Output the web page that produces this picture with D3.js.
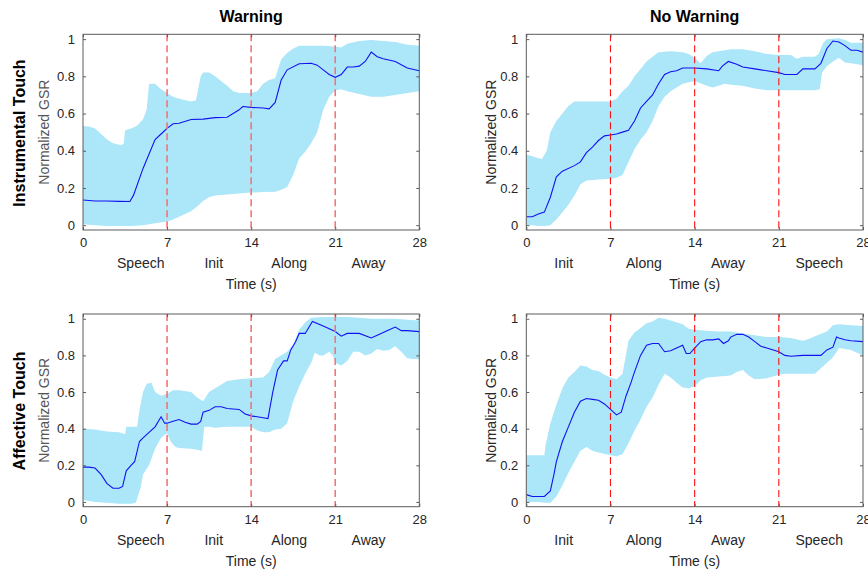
<!DOCTYPE html>
<html><head><meta charset="utf-8">
<script src="https://cdn.jsdelivr.net/npm/d3@7"></script>
<style>
html,body{margin:0;padding:0;background:#fff;}
svg{display:block;font-family:"Liberation Sans",Arial,Helvetica,sans-serif;}
</style></head>
<body><svg id="chart" width="868" height="574"></svg>
<script>
// ---------- DATA ----------
const columnTitles = ["Warning", "No Warning"];
const rowTitles = ["Instrumental Touch", "Affective Touch"];
const xTicks = [0, 7, 14, 21, 28];
const yTicks = [0, 0.2, 0.4, 0.6, 0.8, 1];
const yTickLabels = ["0", "0.2", "0.4", "0.6", "0.8", "1"];
const phaseBoundaries = [7, 14, 21];
const phasesWarning = ["Speech", "Init", "Along", "Away"];
const phasesNoWarning = ["Init", "Along", "Away", "Speech"];
const phaseAnchorsWarning = [4.81, 10.89, 17.17, 23.78];
const phaseAnchorsNoWarning = [3.11, 9.78, 16.77, 24.36];
const xLabel = "Time (s)";
const yLabel = "Normalized GSR";

// Instrumental touch, warning
const iwMean = [[0,0.135],[1,0.13],[2,0.13],[3,0.128],[3.9,0.127],[4.2,0.16],[5,0.305],[6,0.46],[6.5,0.49],[7,0.52],[7.5,0.545],[8,0.548],[9,0.568],[10,0.57],[11,0.578],[12,0.58],[13,0.62],[13.3,0.638],[14,0.633],[15,0.63],[15.5,0.625],[16,0.66],[16.5,0.78],[17,0.835],[18,0.868],[19,0.87],[19.5,0.86],[20,0.835],[20.5,0.81],[21,0.795],[21.5,0.81],[22,0.85],[22.5,0.85],[23,0.855],[23.5,0.88],[24,0.93],[24.5,0.905],[25,0.895],[26,0.88],[27,0.845],[28,0.83]];
const iwUpper = [[0,0.533],[0.5,0.53],[1,0.52],[1.5,0.49],[2,0.46],[2.5,0.44],[3.2,0.43],[3.4,0.44],[3.5,0.51],[4,0.52],[4.5,0.535],[5,0.57],[5.3,0.62],[5.5,0.76],[6,0.76],[6.5,0.73],[7,0.71],[7.5,0.69],[8,0.68],[9,0.665],[9.4,0.67],[9.8,0.8],[10,0.82],[10.5,0.82],[11,0.8],[12,0.75],[12.5,0.72],[13,0.71],[14,0.71],[14.5,0.72],[15,0.76],[15.5,0.78],[16,0.79],[16.5,0.89],[17,0.925],[17.5,0.95],[18,0.965],[20,0.965],[21,0.96],[21.5,0.955],[22,0.975],[23,0.99],[24,0.995],[25,0.99],[26,0.985],[27,0.97],[28,0.965]];
const iwLower = [[0,0.005],[1,0],[2,-0.005],[3,-0.005],[4,-0.005],[5,0],[6,0.01],[7,0.02],[7.5,0.03],[8,0.045],[9,0.075],[9.5,0.1],[10,0.13],[10.5,0.15],[11,0.16],[12,0.165],[13,0.17],[14,0.175],[15,0.178],[16,0.18],[16.5,0.19],[17,0.205],[17.5,0.27],[18,0.36],[18.5,0.395],[19,0.44],[19.5,0.5],[20,0.62],[20.5,0.69],[21,0.725],[21.5,0.73],[22,0.72],[23,0.705],[24,0.69],[25,0.69],[26,0.7],[27,0.71],[28,0.72]];

// Instrumental touch, no warning
const inMean = [[0,0.045],[0.5,0.045],[1,0.06],[1.5,0.07],[2,0.15],[2.5,0.26],[3,0.29],[4,0.32],[4.5,0.34],[5,0.39],[5.5,0.42],[6,0.455],[6.5,0.48],[7,0.485],[7.5,0.49],[8,0.5],[8.5,0.51],[9,0.56],[9.5,0.63],[10,0.665],[10.5,0.7],[11,0.76],[11.5,0.81],[12,0.825],[12.5,0.83],[13,0.845],[14,0.845],[15,0.84],[16,0.83],[16.3,0.855],[16.8,0.88],[17.5,0.865],[18,0.85],[19,0.84],[20,0.83],[21,0.82],[21.5,0.81],[22,0.81],[22.5,0.81],[23,0.84],[23.5,0.84],[24,0.84],[24.5,0.87],[25,0.95],[25.5,0.99],[26,0.985],[26.5,0.965],[27,0.94],[27.5,0.94],[28,0.93]];
const inUpper = [[0,0.38],[0.5,0.37],[1,0.36],[1.3,0.355],[1.7,0.4],[2,0.5],[2.5,0.56],[3,0.6],[3.5,0.64],[4,0.665],[5,0.665],[6,0.665],[7,0.665],[7.5,0.68],[8,0.72],[8.5,0.75],[9,0.8],[9.5,0.84],[10,0.88],[10.5,0.905],[11,0.93],[12,0.935],[13,0.93],[13.5,0.92],[14,0.9],[14.5,0.87],[15,0.91],[15.5,0.93],[16,0.935],[17,0.945],[18,0.945],[19,0.935],[20,0.92],[21,0.915],[22,0.915],[22.5,0.895],[23,0.905],[24,0.905],[24.3,0.92],[24.7,0.98],[25,1.0],[26,1.005],[26.5,0.995],[27,0.98],[28,0.98]];
const inLower = [[0,0],[0.5,0],[1,-0.005],[1.5,-0.005],[2,0],[2.5,0.03],[3,0.07],[3.5,0.11],[4,0.16],[4.5,0.22],[5,0.24],[6,0.245],[7,0.25],[7.5,0.255],[8,0.27],[8.5,0.34],[9,0.41],[9.5,0.46],[10,0.5],[10.5,0.56],[11,0.64],[11.5,0.69],[12,0.72],[12.5,0.74],[13,0.76],[14,0.775],[15,0.75],[15.5,0.74],[16,0.75],[16.5,0.76],[17,0.755],[18,0.75],[19,0.735],[20,0.725],[21,0.725],[22,0.725],[23,0.725],[24,0.725],[24.4,0.73],[24.6,0.82],[25,0.855],[25.5,0.88],[26,0.9],[26.5,0.875],[27,0.87],[28,0.86]];

// Affective touch, warning
const awMean = [[0,0.19],[0.5,0.19],[1,0.185],[1.5,0.15],[2,0.1],[2.5,0.075],[3,0.075],[3.3,0.085],[3.6,0.17],[4,0.2],[4.3,0.22],[4.7,0.33],[5,0.35],[5.5,0.38],[6,0.41],[6.5,0.465],[6.8,0.43],[7,0.43],[7.5,0.44],[8,0.45],[8.5,0.435],[9,0.425],[9.5,0.425],[9.8,0.44],[10,0.49],[10.5,0.5],[11,0.52],[11.5,0.52],[12,0.51],[13,0.505],[13.5,0.48],[14,0.47],[14.5,0.465],[15,0.46],[15.4,0.455],[15.8,0.6],[16.2,0.72],[16.7,0.77],[17,0.77],[17.3,0.83],[17.7,0.875],[18,0.92],[18.5,0.92],[19.1,0.985],[20,0.96],[21,0.93],[21.5,0.905],[22,0.92],[23,0.92],[24,0.895],[24.5,0.91],[25,0.925],[25.5,0.94],[26,0.955],[26.5,0.935],[27,0.935],[28,0.93]];
const awUpper = [[0,0.4],[1,0.395],[2,0.385],[3,0.38],[3.5,0.37],[3.6,0.41],[4,0.41],[4.5,0.41],[4.7,0.5],[5,0.6],[5.3,0.645],[5.7,0.65],[6,0.6],[6.5,0.58],[7,0.59],[7.5,0.61],[8,0.61],[9,0.6],[9.5,0.57],[10,0.55],[10.5,0.6],[11,0.62],[12,0.66],[13,0.67],[14,0.675],[15,0.68],[15.5,0.71],[16,0.78],[17,0.82],[17.5,0.86],[18,0.94],[18.5,0.98],[19,1.005],[20,1.01],[21,1.01],[22,1.01],[23,1.005],[24,1.0],[25,1.0],[26,1.0],[27,0.995],[28,0.99]];
const awLower = [[0,0.01],[1,0],[2,-0.005],[3,-0.01],[4,-0.01],[4.4,-0.005],[4.8,0.08],[5,0.15],[5.5,0.2],[6,0.29],[6.5,0.35],[7,0.375],[7.3,0.33],[7.7,0.3],[8,0.295],[9,0.29],[9.5,0.285],[9.9,0.28],[10.1,0.41],[10.5,0.41],[11,0.405],[12,0.41],[13,0.41],[14,0.41],[14.5,0.39],[15,0.38],[15.5,0.38],[16,0.395],[16.5,0.4],[17,0.43],[17.5,0.55],[18,0.63],[18.5,0.7],[19,0.76],[19.3,0.815],[19.7,0.8],[20,0.8],[20.5,0.82],[20.8,0.8],[21,0.76],[21.5,0.745],[22,0.77],[22.5,0.82],[23,0.82],[23.5,0.8],[24,0.81],[24.5,0.835],[25,0.825],[25.5,0.83],[26,0.85],[26.5,0.82],[27,0.785],[27.5,0.78],[28,0.78]];

// Affective touch, no warning
const anMean = [[0,0.04],[0.5,0.03],[1,0.03],[1.5,0.03],[2,0.06],[2.3,0.15],[2.5,0.22],[3,0.33],[3.5,0.41],[4,0.49],[4.5,0.55],[5,0.565],[5.5,0.56],[6,0.555],[6.5,0.535],[7,0.505],[7.5,0.475],[7.9,0.49],[8.3,0.58],[8.7,0.65],[9,0.71],[9.5,0.8],[10,0.855],[10.5,0.865],[11,0.865],[11.5,0.82],[12,0.825],[12.5,0.84],[13,0.855],[13.3,0.81],[13.6,0.81],[14,0.84],[14.5,0.875],[15,0.885],[15.5,0.885],[16,0.89],[16.4,0.865],[16.8,0.88],[17,0.9],[17.5,0.915],[18,0.915],[18.5,0.9],[19,0.875],[19.5,0.85],[20,0.84],[21,0.82],[21.5,0.8],[22,0.795],[23,0.8],[24,0.8],[24.5,0.8],[25,0.83],[25.5,0.845],[25.8,0.9],[26,0.895],[26.5,0.885],[27,0.88],[28,0.875]];
const anUpper = [[0,0.255],[1.5,0.255],[1.6,0.31],[2,0.43],[2.5,0.53],[3,0.62],[3.5,0.68],[4,0.71],[4.5,0.745],[5,0.74],[5.5,0.72],[6,0.715],[6.5,0.695],[7,0.68],[7.5,0.67],[8,0.7],[8.5,0.88],[9,0.925],[9.5,0.95],[10,0.975],[10.5,0.985],[11,1.005],[11.5,1.0],[12,0.99],[13,0.97],[13.5,0.945],[14,0.94],[15,0.935],[16,0.93],[17,0.93],[18,0.92],[19,0.91],[20,0.9],[21,0.9],[22,0.895],[23,0.88],[23.5,0.89],[24,0.905],[25,0.93],[25.5,0.965],[26,0.97],[27,0.965],[28,0.96]];
const anLower = [[0,0],[1,0],[1.5,-0.005],[2,-0.005],[2.5,0.03],[3,0.09],[3.5,0.16],[4,0.22],[4.5,0.28],[5,0.3],[5.5,0.28],[6,0.27],[7,0.255],[7.5,0.25],[8,0.26],[8.5,0.32],[9,0.39],[9.5,0.45],[10,0.52],[10.5,0.57],[11,0.64],[11.5,0.7],[12,0.68],[12.5,0.65],[13,0.625],[13.5,0.62],[14,0.63],[14.5,0.665],[15,0.68],[16,0.685],[17,0.69],[17.5,0.71],[18,0.72],[18.5,0.69],[19,0.67],[20,0.675],[21,0.695],[21.5,0.7],[22,0.7],[23,0.7],[24,0.7],[24.5,0.73],[25,0.76],[25.5,0.79],[26,0.84],[27,0.83],[28,0.8]];

// ---------- LAYOUT ----------
const svg = d3.select("#chart");
const colX = [[83, 419.3], [526.3, 863]];
const rowY = [[34.3, 230], [314, 506.7]];
const fillColor = "#abe6f9";
const lineColor = "#1212f0";
const axisColor = "#5c5c5c";
const textColor = "#262626";

const panels = [
  {r:0, c:0, mean:iwMean, up:iwUpper, lo:iwLower, phases:phasesWarning, anchors:phaseAnchorsWarning, dash:"#f57474", dw:1.6},
  {r:0, c:1, mean:inMean, up:inUpper, lo:inLower, phases:phasesNoWarning, anchors:phaseAnchorsNoWarning, dash:"#ff1010", dw:1.1},
  {r:1, c:0, mean:awMean, up:awUpper, lo:awLower, phases:phasesWarning, anchors:phaseAnchorsWarning, dash:"#f57474", dw:1.6},
  {r:1, c:1, mean:anMean, up:anUpper, lo:anLower, phases:phasesNoWarning, anchors:phaseAnchorsNoWarning, dash:"#ff1010", dw:1.1}
];

panels.forEach((p, i) => {
  const [x0, x1] = colX[p.c];
  const [y0, y1] = rowY[p.r];
  const x = d3.scaleLinear().domain([0, 28]).range([x0, x1]);
  const y = d3.scaleLinear().domain([-0.026, 1.026]).range([y1, y0]);
  const g = svg.append("g");

  const clipId = "clip" + i;
  svg.append("clipPath").attr("id", clipId).append("rect")
    .attr("x", x0).attr("y", y0).attr("width", x1 - x0).attr("height", y1 - y0);

  const plot = g.append("g").attr("clip-path", `url(#${clipId})`);
  const band = p.up.concat(p.lo.slice().reverse());
  plot.append("path")
    .attr("d", d3.line().x(d => x(d[0])).y(d => y(d[1]))(band) + "Z")
    .attr("fill", fillColor).attr("stroke", "none");

  plot.append("path")
    .attr("d", d3.line().x(d => x(d[0])).y(d => y(d[1]))(p.mean))
    .attr("fill", "none").attr("stroke", lineColor).attr("stroke-width", 1.1);

  plot.selectAll("line.ph").data(phaseBoundaries).join("line")
    .attr("x1", d => x(d)).attr("x2", d => x(d))
    .attr("y1", y0).attr("y2", y1)
    .attr("stroke", p.dash).attr("stroke-width", p.dw)
    .attr("stroke-dasharray", "7,4");

  // axes (ticks inward on all sides)
  const ax = g.append("g").attr("transform", `translate(0,${y1})`)
    .call(d3.axisBottom(x).tickValues(xTicks).tickSizeInner(-3).tickSizeOuter(0).tickPadding(8));
  const axTop = g.append("g").attr("transform", `translate(0,${y0})`)
    .call(d3.axisTop(x).tickValues(xTicks).tickSizeInner(-3).tickSizeOuter(0).tickFormat(""));
  const ay = g.append("g").attr("transform", `translate(${x0},0)`)
    .call(d3.axisLeft(y).tickValues(yTicks).tickSizeInner(-3).tickSizeOuter(0).tickPadding(8)
      .tickFormat((d, k) => yTickLabels[k]));
  const ayR = g.append("g").attr("transform", `translate(${x1},0)`)
    .call(d3.axisRight(y).tickValues(yTicks).tickSizeInner(-3).tickSizeOuter(0).tickFormat(""));
  [ax, axTop, ay, ayR].forEach(a => {
    a.select(".domain").remove();
    a.selectAll(".tick line").attr("stroke", axisColor);
    a.selectAll("text").attr("fill", textColor).style("font-size", "13px")
      .style("font-family", '"Liberation Sans",Arial,sans-serif');
  });
  g.append("rect").attr("x", x0).attr("y", y0).attr("width", x1 - x0).attr("height", y1 - y0)
    .attr("fill", "none").attr("stroke", axisColor).attr("stroke-width", 1);

  // phase labels
  g.selectAll("text.phase").data(p.phases).join("text")
    .attr("x", (d, k) => x(p.anchors[k])).attr("y", y1 + 38)
    .attr("text-anchor", "middle").attr("fill", textColor)
    .style("font-size", "14px").text(d => d);

  g.append("text").attr("x", (x0 + x1) / 2).attr("y", y1 + 59)
    .attr("text-anchor", "middle").attr("fill", textColor)
    .style("font-size", "14px").text(xLabel);

  const ylx = p.c === 0 ? 49 : 495.5;
  g.append("text").attr("transform", `translate(${ylx},${(y0 + y1) / 2}) rotate(-90)`)
    .attr("text-anchor", "middle").attr("fill", p.c === 0 ? "#555" : textColor)
    .style("font-size", "14px").text(yLabel);
});

// column titles
columnTitles.forEach((t, c) => {
  svg.append("text").attr("x", (colX[c][0] + colX[c][1]) / 2).attr("y", 22)
    .attr("text-anchor", "middle").attr("fill", "#000")
    .style("font-size", "16px").style("font-weight", "bold").text(t);
});
// row titles
rowTitles.forEach((t, r) => {
  svg.append("text").attr("transform", `translate(25,${r === 0 ? 133 : 411}) rotate(-90)`)
    .attr("text-anchor", "middle").attr("fill", "#000")
    .style("font-size", "16px").style("font-weight", "bold").text(t);
});
</script></body></html>
